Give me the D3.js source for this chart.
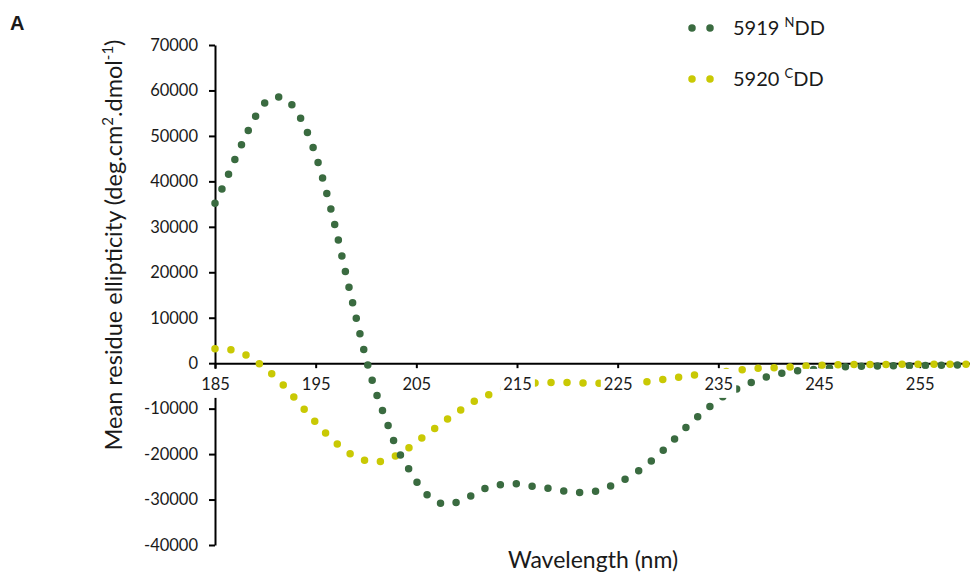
<!DOCTYPE html>
<html><head><meta charset="utf-8">
<script src="https://cdn.jsdelivr.net/npm/d3@7"></script>
<style>
body{margin:0;background:#fff}
svg{display:block}
text{font-family:Lato,"Open Sans",sans-serif;fill:#1a1a1a}
</style>
</head><body>
<svg id="chart" width="970" height="574"></svg>
<script>
// ---- data ----
const wavelengths = [185,186,187,188,189,190,191,192,193,194,195,196,197,198,199,200,201,202,203,204,205,206,207,208,209,210,211,212,213,214,215,216,217,218,219,220,221,222,223,224,225,226,227,228,229,230,231,232,233,234,235,236,237,238,239,240,241,242,243,244,245,246,247,248,249,250,251,252,253,254,255,256,257,258,259,260];
const ndd5919 = [35200,39800,44950,49800,54200,57400,58600,58200,55700,51700,45800,38200,29500,19700,10200,1050,-6500,-12500,-18400,-22300,-26000,-28800,-30400,-31100,-30600,-29600,-28700,-27400,-26900,-26600,-26550,-26900,-27280,-27500,-27850,-28250,-28450,-28400,-28100,-27300,-26300,-25200,-23800,-22100,-20300,-18100,-15900,-13700,-11700,-9800,-8100,-6600,-5500,-4500,-3600,-2900,-2350,-1950,-1650,-1450,-1300,-1050,-850,-750,-700,-650,-600,-600,-550,-550,-500,-500,-450,-450,-400,-400];
const cdd5920 = [3200,3150,2700,1900,500,-1100,-3100,-5300,-7900,-10500,-13000,-15400,-17500,-19300,-20600,-21450,-21700,-21300,-20350,-19000,-17400,-15700,-14100,-12450,-10900,-9400,-8100,-7100,-6200,-5400,-4900,-4550,-4350,-4280,-4270,-4270,-4350,-4400,-4400,-4400,-4400,-4400,-4300,-4050,-3750,-3400,-3100,-2800,-2500,-2250,-2000,-1800,-1550,-1300,-1100,-1030,-1000,-850,-680,-600,-480,-400,-350,-300,-300,-300,-280,-280,-260,-260,-250,-250,-230,-230,-220,-220];
const seriesNames = ["5919", "5920"];
const seriesSup = ["N", "C"];
const seriesColors = ["#3a6b40", "#c9c904"];
const xTicks = [185,195,205,215,225,235,245,255];
const yTicks = [-40000,-30000,-20000,-10000,0,10000,20000,30000,40000,50000,60000,70000];

// ---- chart ----
const svg = d3.select("#chart");
const x = d3.scaleLinear().domain([185, 260]).range([215, 970]);
const y = d3.scaleLinear().domain([-40000, 70000]).range([545, 45]);
const fmt = d => String(d); // plain hyphen-minus as in the original

// y axis
const gy = svg.append("g").attr("transform", `translate(${x(185)},0)`)
  .call(d3.axisLeft(y).tickValues(yTicks).tickSize(6).tickPadding(11).tickSizeOuter(0).tickFormat(fmt));
gy.select(".domain").attr("stroke", "#000").attr("stroke-width", 2);
gy.selectAll(".tick line").attr("stroke", "#000").attr("stroke-width", 2);
gy.selectAll(".tick text").style("font-size", "16.5px").attr("fill", "#1a1a1a");

// x axis line + ticks
const gx = svg.append("g").attr("transform", `translate(0,${y(0)})`)
  .call(d3.axisBottom(x).tickValues(xTicks).tickSize(5).tickSizeOuter(0).tickFormat(""));
gx.select(".domain").attr("stroke", "#000").attr("stroke-width", 2);
gx.selectAll(".tick line").attr("stroke", "#000").attr("stroke-width", 2);

// series (dotted lines)
const series = [
  {name: 1, values: cdd5920, color: seriesColors[1]},
  {name: 0, values: ndd5919, color: seriesColors[0]}
];
const line = d3.line().x((d, i) => x(wavelengths[i])).y(d => y(d)).curve(d3.curveMonotoneX);
svg.append("g").selectAll("path").data(series).join("path")
  .attr("d", s => line(s.values))
  .attr("fill", "none")
  .attr("stroke", s => s.color)
  .attr("stroke-width", 7.5)
  .attr("stroke-linecap", "round")
  .attr("stroke-dasharray", "0 16");

// x tick labels on top with white boxes
const gxl = svg.append("g").attr("transform", `translate(0,${y(0)})`)
  .call(d3.axisBottom(x).tickValues(xTicks).tickSize(5).tickPadding(10).tickSizeOuter(0).tickFormat(fmt));
gxl.select(".domain").remove();
gxl.selectAll(".tick line").remove();
gxl.selectAll(".tick text").style("font-size", "16.5px").attr("fill", "#1a1a1a");
gxl.selectAll(".tick").each(function() {
  const t = d3.select(this).select("text");
  const b = t.node().getBBox();
  d3.select(this).insert("rect", "text")
    .attr("x", b.x - 3).attr("y", b.y - 5)
    .attr("width", b.width + 6).attr("height", b.height + 9)
    .attr("fill", "#fff");
});

// axis titles
svg.append("text")
  .attr("x", 593).attr("y", 568)
  .attr("text-anchor", "middle")
  .style("font-size", "23px")
  .text("Wavelength (nm)");

const yt = svg.append("text")
  .attr("transform", "translate(122,245) rotate(-90)")
  .attr("text-anchor", "middle")
  .style("font-size", "23.5px");
yt.append("tspan").text("Mean residue ellipticity (deg.cm");
yt.append("tspan").attr("dy", -9).style("font-size", "15px").text("2");
yt.append("tspan").attr("dy", 9).text(".dmol");
yt.append("tspan").attr("dy", -9).style("font-size", "15px").text("-1");
yt.append("tspan").attr("dy", 9).text(")");

// panel letter
svg.append("text").attr("x", 10).attr("y", 30)
  .style("font-family", "'Liberation Sans', Arial, sans-serif")
  .style("font-weight", "bold").style("font-size", "20px").text("A");

// legend
const legendY = [28, 79];
const lg = svg.append("g").selectAll("g").data([0, 1]).join("g")
  .attr("transform", i => `translate(0,${legendY[i]})`);
lg.append("path")
  .attr("d", "M692,0H710.5")
  .attr("stroke", i => seriesColors[i])
  .attr("stroke-width", 7.5)
  .attr("stroke-linecap", "round")
  .attr("stroke-dasharray", "0 18");
const lt = lg.append("text").attr("x", 733).attr("y", 7).style("font-size", "20px");
lt.append("tspan").text(i => seriesNames[i] + " ");
lt.append("tspan").attr("dy", -8).style("font-size", "13px").text(i => seriesSup[i]);
lt.append("tspan").attr("dy", 8).text("DD");
</script>
</body></html>
